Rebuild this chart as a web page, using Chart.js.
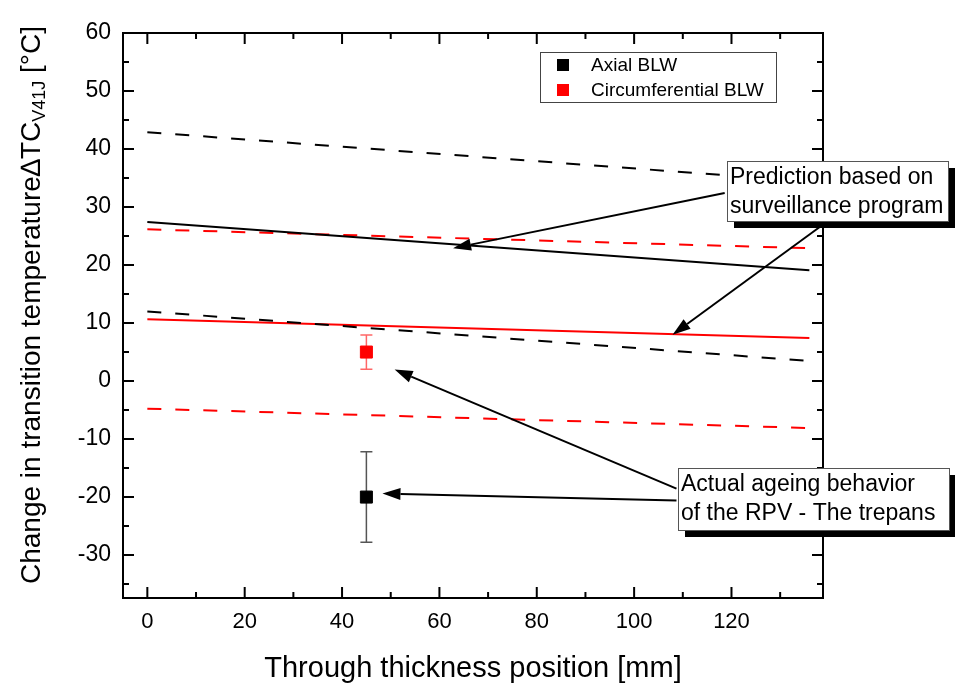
<!DOCTYPE html>
<html>
<head>
<meta charset="utf-8">
<script src="https://cdn.jsdelivr.net/npm/chart.js@4.4.1/dist/chart.umd.min.js"></script>
<style>
    body { margin: 0; background: #fff; }
    canvas { display: block; }
</style>
</head>
<body>
<canvas id="myChart" width="955" height="685"></canvas>
<script>
// through thickness position of the prediction lines [mm]
const xPos = [0, 136];

// prediction bands, axial BLW (black) and circumferential BLW (red)
const axialUpper = [42.9, 34.4];
const axialMean = [27.4, 19.1];
const axialLower = [12.0, 3.45];
const circUpper = [26.15, 22.9];
const circMean = [10.64, 7.4];
const circLower = [-4.76, -8.1];

// trepan results
const trepanX = [45];
const axialTrepan = [-20];
const axialErr = [7.8];
const circTrepan = [5];
const circErr = [2.95];

const xTicks = [0, 20, 40, 60, 80, 100, 120];
const yTicks = [-30, -20, -10, 0, 10, 20, 30, 40, 50, 60];

const fontFam = "'Liberation Sans', Arial, sans-serif";

function pts(xs, ys) {
    return xs.map((x, i) => ({ x: x, y: ys[i] }));
}

function lineSet(label, xs, ys, color, dashed) {
    return {
        label: label,
        data: pts(xs, ys),
        showLine: true,
        borderColor: color,
        backgroundColor: color,
        borderWidth: 2,
        borderDash: dashed ? [14, 14] : [],
        pointRadius: 0,
        tension: 0
    };
}

function pointSet(label, xs, ys, errs, color, errColor) {
    return {
        label: label,
        data: pts(xs, ys),
        showLine: false,
        pointStyle: 'rect',
        pointRadius: 8.5,
        borderWidth: 1,
        borderColor: color,
        backgroundColor: color,
        errors: errs,
        errColor: errColor
    };
}

// arrows in data coordinates [x1, y1, x2(tip), y2(tip)]
const arrows = [
    [118.6, 32.4, 62.8, 22.9],
    [138.2, 26.6, 107.9, 8.0],
    [108.7, -18.55, 50.8, 1.97],
    [108.7, -20.6, 48.3, -19.4]
];

const boxes = [
    { x: 727, y: 161, w: 221, h: 60, lines: ['Prediction based on', 'surveillance program'] },
    { x: 678, y: 468, w: 271, h: 62, lines: ['Actual ageing behavior', 'of the RPV - The trepans'] }
];

function drawArrow(ctx, x1, y1, x2, y2) {
    const ang = Math.atan2(y2 - y1, x2 - x1);
    const hl = 18, hw = 6;
    const bx = x2 - hl * Math.cos(ang), by = y2 - hl * Math.sin(ang);
    ctx.beginPath();
    ctx.moveTo(x1, y1);
    ctx.lineTo(bx, by);
    ctx.stroke();
    ctx.beginPath();
    ctx.moveTo(x2, y2);
    ctx.lineTo(bx + hw * Math.sin(ang), by - hw * Math.cos(ang));
    ctx.lineTo(bx - hw * Math.sin(ang), by + hw * Math.cos(ang));
    ctx.closePath();
    ctx.fill();
}

const framePlugin = {
    id: 'framePlugin',
    beforeDatasetsDraw(chart) {
        const ctx = chart.ctx;
        const a = chart.chartArea;
        const xs = chart.scales.x, ys = chart.scales.y;
        ctx.save();
        ctx.strokeStyle = '#000';
        ctx.lineWidth = 2;
        ctx.strokeRect(a.left, a.top, a.right - a.left, a.bottom - a.top);
        ctx.beginPath();
        for (let v = 0; v <= 130; v += 10) {
            const px = xs.getPixelForValue(v);
            const len = v % 20 === 0 ? 11 : 6;
            ctx.moveTo(px, a.bottom); ctx.lineTo(px, a.bottom - len);
            ctx.moveTo(px, a.top); ctx.lineTo(px, a.top + len);
        }
        for (let v = -35; v <= 60; v += 5) {
            const py = ys.getPixelForValue(v);
            const len = v % 10 === 0 ? 11 : 6;
            ctx.moveTo(a.left, py); ctx.lineTo(a.left + len, py);
            ctx.moveTo(a.right, py); ctx.lineTo(a.right - len, py);
        }
        ctx.stroke();

        // error bars
        chart.data.datasets.forEach((ds, i) => {
            if (!ds.errors) return;
            const meta = chart.getDatasetMeta(i);
            meta.data.forEach((el, j) => {
                const v = ds.data[j].y, e = ds.errors[j];
                const yTop = ys.getPixelForValue(v + e);
                const yBot = ys.getPixelForValue(v - e);
                ctx.strokeStyle = ds.errColor;
                ctx.lineWidth = 1.5;
                ctx.beginPath();
                ctx.moveTo(el.x, yTop); ctx.lineTo(el.x, yBot);
                ctx.moveTo(el.x - 6, yTop); ctx.lineTo(el.x + 6, yTop);
                ctx.moveTo(el.x - 6, yBot); ctx.lineTo(el.x + 6, yBot);
                ctx.stroke();
            });
        });
        ctx.restore();
    },
    afterDraw(chart) {
        const ctx = chart.ctx;
        const a = chart.chartArea;
        const xs = chart.scales.x, ys = chart.scales.y;
        ctx.save();

        // legend
        ctx.strokeStyle = '#444';
        ctx.lineWidth = 1;
        ctx.strokeRect(540.5, 52.5, 236, 50);
        ctx.font = '19px ' + fontFam;
        ctx.textBaseline = 'middle';
        let ly = 65;
        chart.data.datasets.forEach(ds => {
            if (!ds.errors) return;
            ctx.fillStyle = ds.backgroundColor;
            ctx.fillRect(557, ly - 6, 12, 12);
            ctx.fillStyle = '#000';
            ctx.fillText(ds.label, 591, ly + 1);
            ly += 25;
        });

        // arrows
        ctx.strokeStyle = '#000';
        ctx.fillStyle = '#000';
        ctx.lineWidth = 2;
        arrows.forEach(r => {
            drawArrow(ctx, xs.getPixelForValue(r[0]), ys.getPixelForValue(r[1]),
                xs.getPixelForValue(r[2]), ys.getPixelForValue(r[3]));
        });

        // annotation boxes with shadow
        boxes.forEach(b => {
            ctx.fillStyle = '#000';
            ctx.fillRect(b.x + 7, b.y + 7, b.w, b.h);
            ctx.fillStyle = '#fff';
            ctx.fillRect(b.x, b.y, b.w, b.h);
            ctx.strokeStyle = '#555';
            ctx.lineWidth = 1;
            ctx.strokeRect(b.x + 0.5, b.y + 0.5, b.w, b.h);
            ctx.fillStyle = '#000';
            ctx.font = '23px ' + fontFam;
            ctx.textBaseline = 'alphabetic';
            ctx.textAlign = 'left';
            ctx.fillText(b.lines[0], b.x + 3, b.y + 23);
            ctx.fillText(b.lines[1], b.x + 3, b.y + 52);
        });

        // x axis title
        ctx.fillStyle = '#000';
        ctx.font = '29px ' + fontFam;
        ctx.textAlign = 'center';
        ctx.textBaseline = 'alphabetic';
        ctx.fillText('Through thickness position [mm]', (a.left + a.right) / 2, 677);

        // y axis title with subscript
        const big = '28px ' + fontFam, small = '18px ' + fontFam;
        const p1 = 'Change in transition temperature\u2206TC', p2 = 'V41J', p3 = ' [\u00B0C]';
        ctx.font = big;
        const w1 = ctx.measureText(p1).width, w3 = ctx.measureText(p3).width;
        ctx.font = small;
        const w2 = ctx.measureText(p2).width;
        const total = w1 + w2 + w3;
        ctx.translate(40, 305);
        ctx.rotate(-Math.PI / 2);
        ctx.textAlign = 'left';
        let tx = -total / 2;
        ctx.font = big;
        ctx.fillText(p1, tx, 0);
        tx += w1;
        ctx.font = small;
        ctx.fillText(p2, tx, 5);
        tx += w2;
        ctx.font = big;
        ctx.fillText(p3, tx, 0);
        ctx.restore();
    }
};

const ctxC = document.querySelector('#myChart').getContext('2d');
const chartGraph = new Chart(ctxC, {
    type: 'scatter',
    data: {
        datasets: [
            lineSet('Axial upper', xPos, axialUpper, '#000', true),
            lineSet('Axial mean', xPos, axialMean, '#000', false),
            lineSet('Axial lower', xPos, axialLower, '#000', true),
            lineSet('Circ upper', xPos, circUpper, '#ff0000', true),
            lineSet('Circ mean', xPos, circMean, '#ff0000', false),
            lineSet('Circ lower', xPos, circLower, '#ff0000', true),
            pointSet('Axial BLW', trepanX, axialTrepan, axialErr, '#000', '#555'),
            pointSet('Circumferential BLW', trepanX, circTrepan, circErr, '#ff0000', 'rgba(255,0,0,0.6)')
        ]
    },
    options: {
        responsive: false,
        animation: false,
        layout: { padding: { left: 0, top: 33, right: 132, bottom: 0 } },
        plugins: {
            legend: { display: false },
            tooltip: { enabled: false }
        },
        scales: {
            x: {
                type: 'linear',
                min: -5,
                max: 138.8,
                grid: { display: false, drawTicks: false },
                border: { display: false },
                afterBuildTicks: s => { s.ticks = xTicks.map(v => ({ value: v })); },
                afterFit: s => { s.height = 87; },
                ticks: {
                    color: '#000',
                    padding: 11,
                    maxRotation: 0,
                    font: { family: fontFam, size: 22 }
                }
            },
            y: {
                type: 'linear',
                min: -37.4,
                max: 60,
                grid: { display: false, drawTicks: false },
                border: { display: false },
                afterBuildTicks: s => { s.ticks = yTicks.map(v => ({ value: v })); },
                afterFit: s => { s.width = 123; },
                ticks: {
                    color: '#000',
                    padding: 12,
                    font: { family: fontFam, size: 23 }
                }
            }
        }
    },
    plugins: [framePlugin]
});
</script>
</body>
</html>
